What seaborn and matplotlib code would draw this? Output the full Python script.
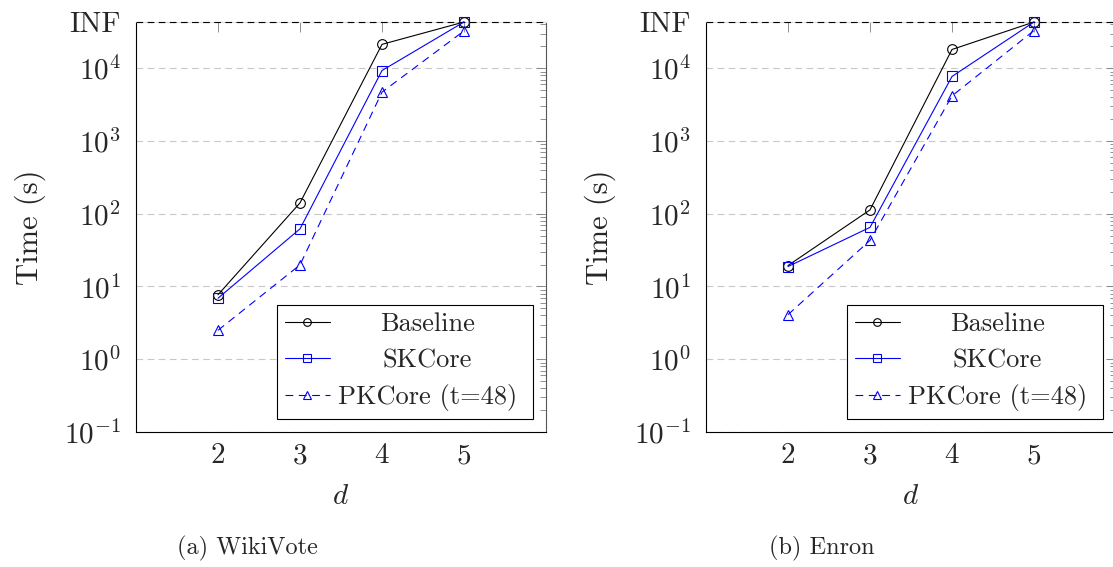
import numpy as np
import seaborn as sns
import matplotlib.pyplot as plt
from matplotlib.ticker import LogLocator, NullFormatter

# values (seconds); INF = time limit
INF = 43200
d_values = [2, 3, 4, 5]

wiki_baseline = [7.7, 141, 21300, INF]
wiki_skcore = [6.9, 62, 9300, INF]
wiki_pkcore = [2.5, 19.8, 4700, 32600]

enron_baseline = [19.4, 113, 18100, INF]
enron_skcore = [18.8, 65, 7700, INF]
enron_pkcore = [4.1, 43, 4170, 33000]

series_names = ["Baseline", "SKCore", "PKCore (t=48)"]
captions = ["(a) WikiVote", "(b) Enron"]
ytick_values = [1e-1, 1e0, 1e1, 1e2, 1e3, 1e4, INF]
ytick_labels = [r"$10^{-1}$", r"$10^{0}$", r"$10^{1}$", r"$10^{2}$",
                r"$10^{3}$", r"$10^{4}$", "INF"]

sns.set_theme(style="white")
plt.rcParams["font.family"] = "cmr10"
plt.rcParams["mathtext.fontset"] = "cm"
plt.rcParams["axes.formatter.use_mathtext"] = True

styles = {
    "Baseline": dict(color="black", marker="o", linestyle="-"),
    "SKCore": dict(color="blue", marker="s", linestyle="-"),
    "PKCore (t=48)": dict(color="blue", marker="^", linestyle=(0, (7, 5))),
}

fig = plt.figure(figsize=(11.13, 5.67), dpi=100)
ax1 = fig.add_axes([136 / 1113, 135 / 567, 410 / 1113, 410 / 567])
ax2 = fig.add_axes([706 / 1113, 135 / 567, 410 / 1113, 410 / 567])

panels = [
    (ax1, [wiki_baseline, wiki_skcore, wiki_pkcore]),
    (ax2, [enron_baseline, enron_skcore, enron_pkcore]),
]

legends = []
for ax, values in panels:
    for name, vals in zip(series_names, values):
        st = styles[name]
        sns.lineplot(x=d_values, y=vals, ax=ax, color=st["color"],
                     marker=st["marker"], linestyle=st["linestyle"],
                     linewidth=0.8, markersize=7, markerfacecolor="none",
                     markeredgecolor=st["color"], markeredgewidth=0.8,
                     label=name, legend=False, clip_on=False, zorder=4)

    ax.set_yscale("log")
    ax.set_xlim(1, 6)
    ax.set_ylim(0.1, INF)
    ax.set_xticks(d_values)
    ax.set_yticks(ytick_values, labels=ytick_labels)
    ax.yaxis.set_minor_locator(LogLocator(base=10, subs=np.arange(2, 10), numticks=50))
    ax.yaxis.set_minor_formatter(NullFormatter())
    ax.tick_params(which="both", direction="in", top=True, right=True,
                   color="#7f7f7f", width=0.6)
    ax.tick_params(which="major", length=7.5, labelsize=21)
    ax.tick_params(axis="y", which="major", pad=11)
    ax.tick_params(axis="x", which="major", pad=8)
    ax.tick_params(which="minor", length=4)
    ax.tick_params(axis="x", which="minor", top=False, bottom=False)

    ax.grid(axis="y", which="major", color="#c8c8c8",
            linestyle=(0, (6, 4)), linewidth=0.8)
    ax.axhline(INF, color="black", linestyle=(0, (6, 4)), linewidth=0.8,
               zorder=3, clip_on=False)

    for side in ["left", "bottom"]:
        ax.spines[side].set_color("black")
    ax.spines["right"].set_color("#555555")
    ax.spines["top"].set_color("#dddddd")
    for sp in ax.spines.values():
        sp.set_linewidth(0.8)

    ax.set_xlabel("$d$", fontsize=21, labelpad=10)
    ax.set_ylabel("Time (s)", fontsize=22, labelpad=13)

    leg = ax.legend(loc="lower right", fontsize=19, frameon=True, fancybox=False,
                    edgecolor="black", framealpha=1, borderpad=0.3,
                    labelspacing=0.45, handlelength=1.7, handletextpad=0.6,
                    borderaxespad=0.5)
    leg.get_frame().set_linewidth(0.8)
    for h in leg.legend_handles:
        h.set_markersize(5.5)
    legends.append(leg)

fig.text(247 / 1113, 1 - 548 / 567, captions[0], ha="center", va="center", fontsize=17.5)
fig.text(822 / 1113, 1 - 548 / 567, captions[1], ha="center", va="center", fontsize=17.5)

# centre the legend entries like the original (and leave some room on the right)
fig.canvas.draw()
renderer = fig.canvas.get_renderer()
for leg in legends:
    texts = leg.get_texts()
    widths = [t.get_window_extent(renderer).width for t in texts]
    wmax = max(widths)
    for t, w in zip(texts, widths):
        t.set_x((wmax - w) / 2 - 8)

fig.savefig("out.png", dpi=100)
